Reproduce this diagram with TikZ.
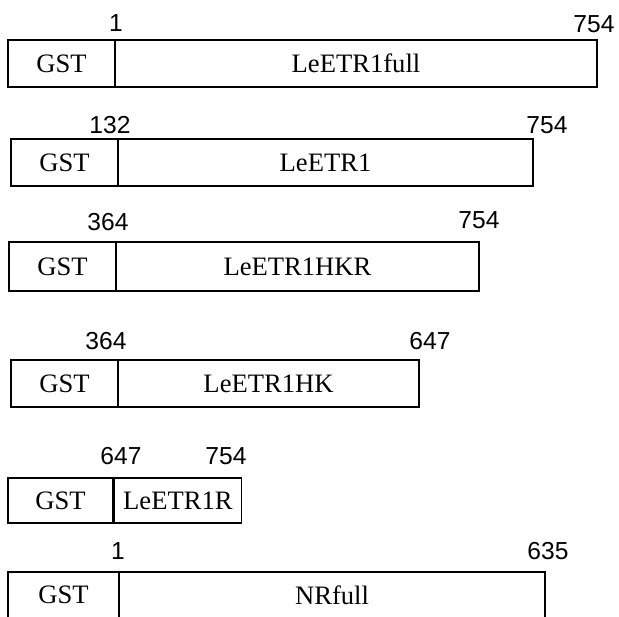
\documentclass[tikz,border=0pt]{standalone}
\usepackage{fontspec}
\setmainfont{Liberation Serif}
\newfontfamily\numfont{Liberation Sans}
\usetikzlibrary{positioning}
\def\pos#1{{\numfont #1}}

\begin{document}
\begin{tikzpicture}[x=0.5pt,y=-0.5pt,
  box/.style={draw, line width=0.9pt, outer sep=0pt, inner sep=0pt, font=\fontsize{13.3pt}{15pt}\selectfont},
  gst/.style={box, minimum width=53.5pt, minimum height=23.5pt},
  num/.style={inner sep=0pt, font=\fontsize{12.3pt}{14pt}\selectfont}]
\useasboundingbox (0,0) rectangle (619,616);
\node (G1) at (61.5,63.5) [gst] {GST};
\node (D1) [box, right=0pt of G1, minimum width=241pt, minimum height=23.5pt] {LeETR1full};
\node (G2) at (64.5,162.5) [gst] {GST};
\node (D2) [box, right=0pt of G2, minimum width=207.5pt, minimum height=23.5pt] {LeETR1};
\node (G3) at (62.5,266.5) [gst, minimum height=24.5pt] {GST};
\node (D3) [box, right=0pt of G3, minimum width=181.5pt, minimum height=24.5pt] {LeETR1HKR};
\node (G4) at (64.5,383.5) [gst] {GST};
\node (D4) [box, right=0pt of G4, minimum width=150.5pt, minimum height=23.5pt] {LeETR1HK};
\node (G5) at (60.5,500.5) [gst, minimum width=52.5pt, minimum height=22.5pt] {GST};
\node (D5) [box, right=0.7pt of G5, minimum width=63.5pt, minimum height=22.5pt] {LeETR1R};
\node (G6) at (63.5,595) [gst, minimum width=55.5pt, minimum height=23pt] {GST};
\node (D6) [box, right=0pt of G6, minimum width=213pt, minimum height=23pt] {NRfull};

\node (S1) at (116,23) [num] {\pos{1}};
\node (E1) at (594,24) [num] {\pos{754}};
\node (S2) at (110,125) [num] {\pos{132}};
\node (E2) at (547,125) [num] {\pos{754}};
\node (S3) at (108,222) [num] {\pos{364}};
\node (E3) at (479,220) [num] {\pos{754}};
\node (S4) at (106,341) [num] {\pos{364}};
\node (E4) at (430,341) [num] {\pos{647}};
\node (S5) at (121,456) [num] {\pos{647}};
\node (E5) at (226,456) [num] {\pos{754}};
\node (S6) at (118,551) [num] {\pos{1}};
\node (E6) at (548,551) [num] {\pos{635}};
\end{tikzpicture}
\end{document}
